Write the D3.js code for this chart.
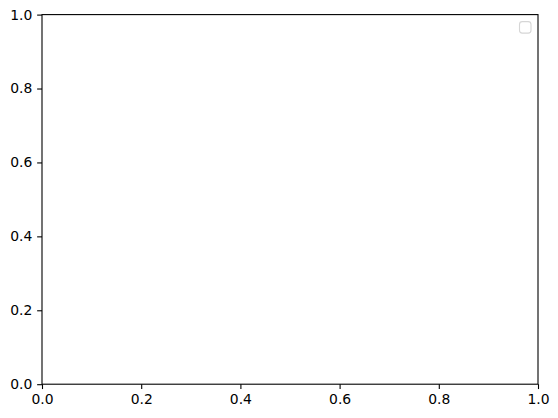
<!DOCTYPE html>
<html>
<head>
<meta charset="utf-8">
<script src="https://cdn.jsdelivr.net/npm/d3@7"></script>
<style>
html,body{margin:0;padding:0;background:#fff;}
svg{display:block;}
</style>
</head>
<body>
<svg id="chart" width="558" height="418"></svg>
<script>
// Data (the reference chart is an empty axes with an empty legend)
const xDomain = [0, 1];
const yDomain = [0, 1];
const xTicks = [0, 0.2, 0.4, 0.6, 0.8, 1.0];
const yTicks = [0, 0.2, 0.4, 0.6, 0.8, 1.0];
const seriesNames = [];

const svg = d3.select("#chart");
const margin = {left: 42, top: 14.6, right: 20, bottom: 34};
const W = 496, H = 369.6;

const x = d3.scaleLinear().domain(xDomain).range([margin.left, margin.left + W]);
const y = d3.scaleLinear().domain(yDomain).range([margin.top + H, margin.top]);

const font = "'DejaVu Sans', sans-serif";
const fmt = d3.format(".1f");

const xAxis = svg.append("g")
  .attr("transform", `translate(0,${margin.top + H})`)
  .call(d3.axisBottom(x).tickValues(xTicks).tickFormat(fmt).tickSizeOuter(0).tickSize(4.86).tickPadding(4.86));
const yAxis = svg.append("g")
  .attr("transform", `translate(${margin.left},0)`)
  .call(d3.axisLeft(y).tickValues(yTicks).tickFormat(fmt).tickSizeOuter(0).tickSize(4.86).tickPadding(4.86));

[xAxis, yAxis].forEach(g => {
  g.select(".domain").remove();
  g.selectAll(".tick line").attr("stroke", "#000").attr("stroke-width", 1.1);
  g.selectAll(".tick text").attr("fill", "#000").style("font-family", font).style("font-size", "13.9px");
});

// axes frame
svg.append("rect")
  .attr("x", margin.left).attr("y", margin.top)
  .attr("width", W).attr("height", H)
  .attr("fill", "none").attr("stroke", "#000").attr("stroke-width", 1.1);

// empty legend at upper right
const legW = 11.5, legH = 11.5, pad = 7;
const legend = svg.append("g").attr("class", "legend");
legend.append("rect")
  .attr("x", margin.left + W - pad - legW)
  .attr("y", margin.top + pad)
  .attr("width", legW).attr("height", legH)
  .attr("rx", 2.8).attr("ry", 2.8)
  .attr("fill", "#fff").attr("fill-opacity", 0.8)
  .attr("stroke", "#d6d6d6").attr("stroke-width", 1.1);
legend.selectAll("text.item").data(seriesNames).enter().append("text").text(d => d);
</script>
</body>
</html>
